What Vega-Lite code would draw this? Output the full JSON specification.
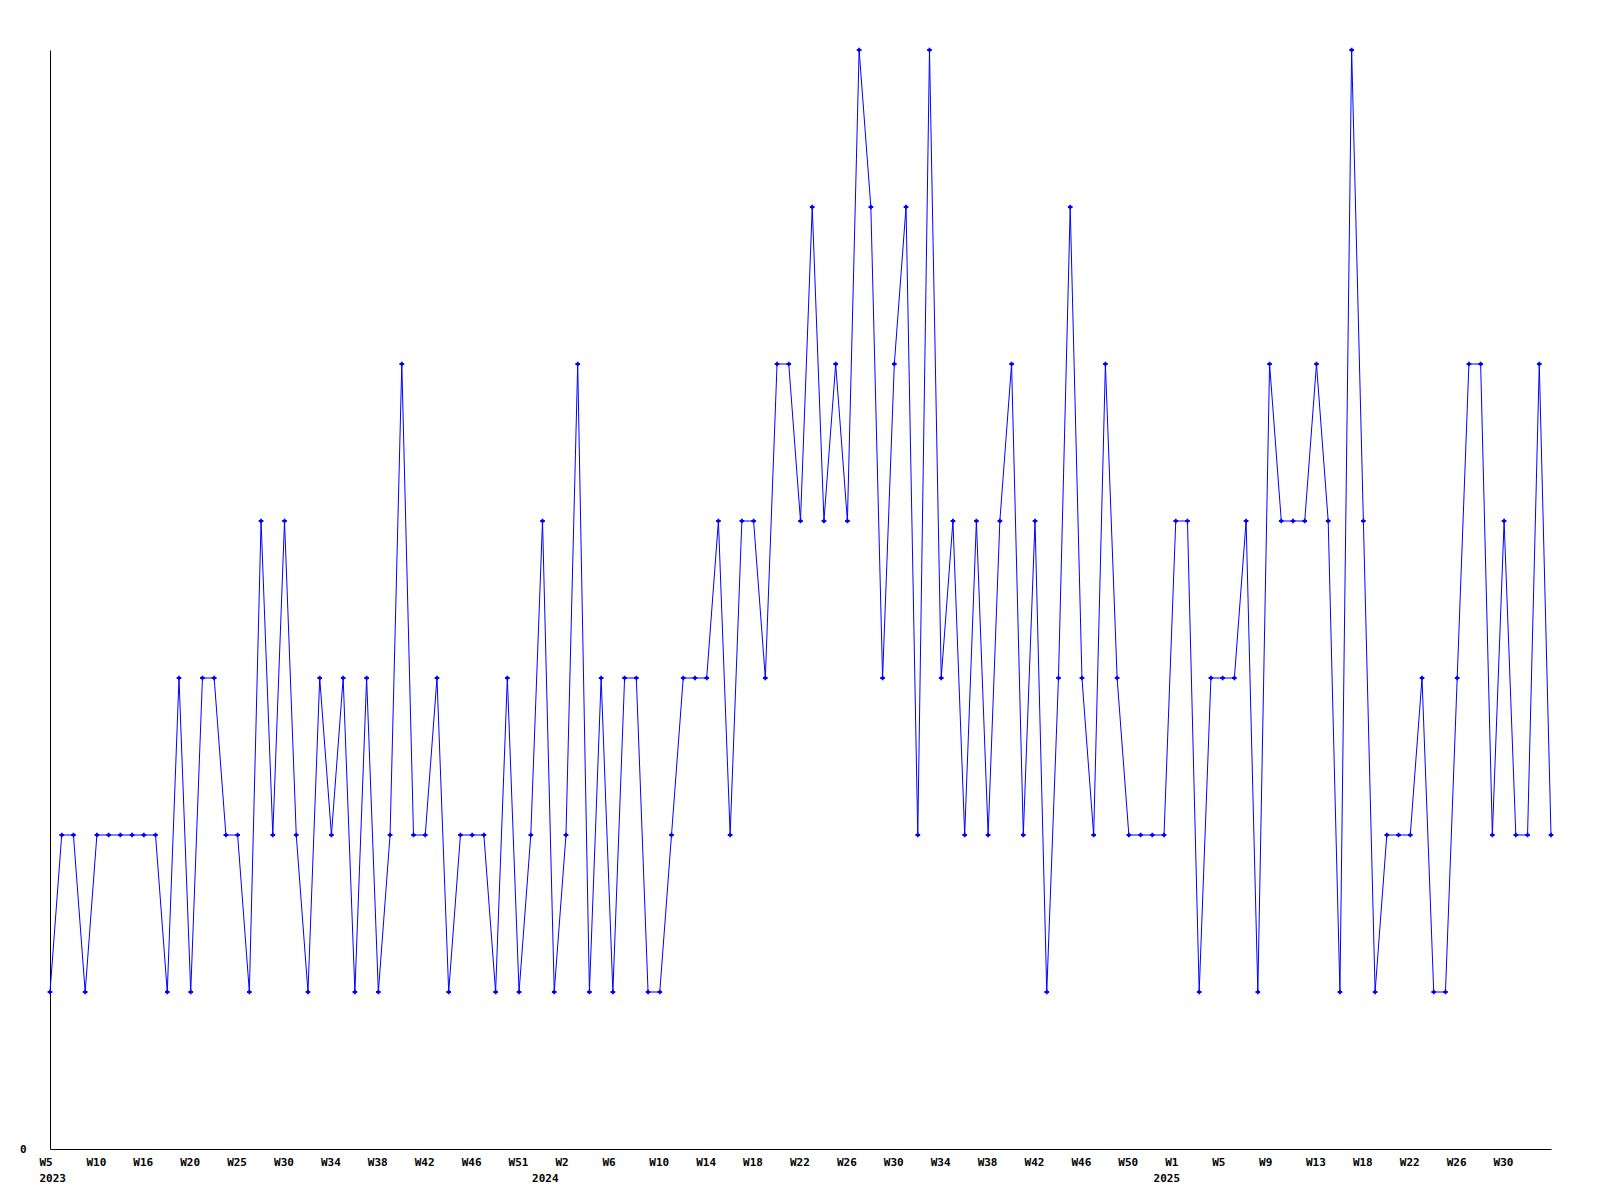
{
  "$schema": "https://vega.github.io/schema/vega-lite/v6.json",
  "width": 1501,
  "height": 1099,
  "autosize": {"type": "none"},
  "padding": {"left": 50, "top": 50, "right": 49, "bottom": 51},
  "background": "white",
  "config": {
    "view": {"stroke": null},
    "axis": {
      "labelFont": "DejaVu Sans Mono",
      "labelFontWeight": "bold",
      "labelFontSize": 11,
      "labelColor": "black",
      "domainColor": "black",
      "domainWidth": 1,
      "ticks": false,
      "tickSize": 0,
      "grid": false,
      "title": null,
      "labelOverlap": false,
      "labelBound": false,
      "labelFlush": false
    }
  },
  "data": {
    "values": [
      {"week": "2023-W05", "value": 1}, {"week": "2023-W06", "value": 2}, {"week": "2023-W07", "value": 2}, {"week": "2023-W08", "value": 1},
      {"week": "2023-W10", "value": 2}, {"week": "2023-W11", "value": 2}, {"week": "2023-W12", "value": 2}, {"week": "2023-W14", "value": 2},
      {"week": "2023-W16", "value": 2}, {"week": "2023-W17", "value": 2}, {"week": "2023-W18", "value": 1}, {"week": "2023-W19", "value": 3},
      {"week": "2023-W20", "value": 1}, {"week": "2023-W21", "value": 3}, {"week": "2023-W22", "value": 3}, {"week": "2023-W24", "value": 2},
      {"week": "2023-W25", "value": 2}, {"week": "2023-W26", "value": 1}, {"week": "2023-W27", "value": 4}, {"week": "2023-W29", "value": 2},
      {"week": "2023-W30", "value": 4}, {"week": "2023-W31", "value": 2}, {"week": "2023-W32", "value": 1}, {"week": "2023-W33", "value": 3},
      {"week": "2023-W34", "value": 2}, {"week": "2023-W35", "value": 3}, {"week": "2023-W36", "value": 1}, {"week": "2023-W37", "value": 3},
      {"week": "2023-W38", "value": 1}, {"week": "2023-W39", "value": 2}, {"week": "2023-W40", "value": 5}, {"week": "2023-W41", "value": 2},
      {"week": "2023-W42", "value": 2}, {"week": "2023-W43", "value": 3}, {"week": "2023-W44", "value": 1}, {"week": "2023-W45", "value": 2},
      {"week": "2023-W46", "value": 2}, {"week": "2023-W47", "value": 2}, {"week": "2023-W48", "value": 1}, {"week": "2023-W50", "value": 3},
      {"week": "2023-W51", "value": 1}, {"week": "2023-W52", "value": 2},
      {"week": "2024-W00", "value": 4}, {"week": "2024-W01", "value": 1}, {"week": "2024-W02", "value": 2}, {"week": "2024-W03", "value": 5},
      {"week": "2024-W04", "value": 1}, {"week": "2024-W05", "value": 3}, {"week": "2024-W06", "value": 1}, {"week": "2024-W07", "value": 3},
      {"week": "2024-W08", "value": 3}, {"week": "2024-W09", "value": 1}, {"week": "2024-W10", "value": 1}, {"week": "2024-W11", "value": 2},
      {"week": "2024-W12", "value": 3}, {"week": "2024-W13", "value": 3}, {"week": "2024-W14", "value": 3}, {"week": "2024-W15", "value": 4},
      {"week": "2024-W16", "value": 2}, {"week": "2024-W17", "value": 4}, {"week": "2024-W18", "value": 4}, {"week": "2024-W19", "value": 3},
      {"week": "2024-W20", "value": 5}, {"week": "2024-W21", "value": 5}, {"week": "2024-W22", "value": 4}, {"week": "2024-W23", "value": 6},
      {"week": "2024-W24", "value": 4}, {"week": "2024-W25", "value": 5}, {"week": "2024-W26", "value": 4}, {"week": "2024-W27", "value": 7},
      {"week": "2024-W28", "value": 6}, {"week": "2024-W29", "value": 3}, {"week": "2024-W30", "value": 5}, {"week": "2024-W31", "value": 6},
      {"week": "2024-W32", "value": 2}, {"week": "2024-W33", "value": 7}, {"week": "2024-W34", "value": 3}, {"week": "2024-W35", "value": 4},
      {"week": "2024-W36", "value": 2}, {"week": "2024-W37", "value": 4}, {"week": "2024-W38", "value": 2}, {"week": "2024-W39", "value": 4},
      {"week": "2024-W40", "value": 5}, {"week": "2024-W41", "value": 2}, {"week": "2024-W42", "value": 4}, {"week": "2024-W43", "value": 1},
      {"week": "2024-W44", "value": 3}, {"week": "2024-W45", "value": 6}, {"week": "2024-W46", "value": 3}, {"week": "2024-W47", "value": 2},
      {"week": "2024-W48", "value": 5}, {"week": "2024-W49", "value": 3}, {"week": "2024-W50", "value": 2}, {"week": "2024-W51", "value": 2},
      {"week": "2024-W52", "value": 2},
      {"week": "2025-W00", "value": 2}, {"week": "2025-W01", "value": 4}, {"week": "2025-W02", "value": 4}, {"week": "2025-W03", "value": 1},
      {"week": "2025-W04", "value": 3}, {"week": "2025-W05", "value": 3}, {"week": "2025-W06", "value": 3}, {"week": "2025-W07", "value": 4},
      {"week": "2025-W08", "value": 1}, {"week": "2025-W09", "value": 5}, {"week": "2025-W10", "value": 4}, {"week": "2025-W11", "value": 4},
      {"week": "2025-W12", "value": 4}, {"week": "2025-W13", "value": 5}, {"week": "2025-W14", "value": 4}, {"week": "2025-W15", "value": 1},
      {"week": "2025-W17", "value": 7}, {"week": "2025-W18", "value": 4}, {"week": "2025-W19", "value": 1}, {"week": "2025-W20", "value": 2},
      {"week": "2025-W21", "value": 2}, {"week": "2025-W22", "value": 2}, {"week": "2025-W23", "value": 3}, {"week": "2025-W24", "value": 1},
      {"week": "2025-W25", "value": 1}, {"week": "2025-W26", "value": 3}, {"week": "2025-W27", "value": 5}, {"week": "2025-W28", "value": 5},
      {"week": "2025-W29", "value": 2}, {"week": "2025-W30", "value": 4}, {"week": "2025-W31", "value": 2}, {"week": "2025-W32", "value": 2},
      {"week": "2025-W33", "value": 5}, {"week": "2025-W34", "value": 2}
    ]
  },
  "encoding": {
    "y": {
      "field": "value",
      "type": "quantitative",
      "scale": {"domain": [0, 7], "nice": false, "zero": true},
      "axis": {
        "values": [0],
        "labelPadding": 24,
        "labelBaseline": "middle"
      }
    }
  },
  "layer": [
    {
      "mark": {"type": "line", "color": "#0000ff", "strokeWidth": 1},
      "encoding": {
        "x": {
          "field": "week",
          "type": "ordinal",
          "sort": null,
          "scale": {"type": "point", "padding": 0},
          "axis": {
            "orient": "bottom",
            "values": ["2023-W05", "2023-W10", "2023-W16", "2023-W20", "2023-W25", "2023-W30", "2023-W34", "2023-W38", "2023-W42", "2023-W46", "2023-W51",
                       "2024-W02", "2024-W06", "2024-W10", "2024-W14", "2024-W18", "2024-W22", "2024-W26", "2024-W30", "2024-W34", "2024-W38", "2024-W42", "2024-W46", "2024-W50",
                       "2025-W01", "2025-W05", "2025-W09", "2025-W13", "2025-W18", "2025-W22", "2025-W26", "2025-W30"],
            "labelExpr": "'W' + toNumber(substring(datum.value, 6))",
            "labelAlign": "left",
            "labelOffset": -11,
            "labelBaseline": "top",
            "labelPadding": 7,
            "labelAngle": 0
          }
        }
      }
    },
    {
      "mark": {"type": "point", "shape": "cross", "filled": true, "color": "#0000ff", "size": 22, "opacity": 1},
      "encoding": {
        "x": {
          "field": "week",
          "type": "ordinal",
          "sort": null,
          "scale": {"type": "point", "padding": 0},
          "axis": {
            "orient": "bottom",
            "domain": false,
            "values": ["2023-W05", "2024-W00", "2025-W00"],
            "labelExpr": "substring(datum.value, 0, 4)",
            "labelAlign": "left",
            "labelOffset": -11,
            "labelBaseline": "top",
            "labelPadding": 23,
            "labelAngle": 0
          }
        }
      }
    }
  ],
  "resolve": {"axis": {"x": "independent"}}
}
